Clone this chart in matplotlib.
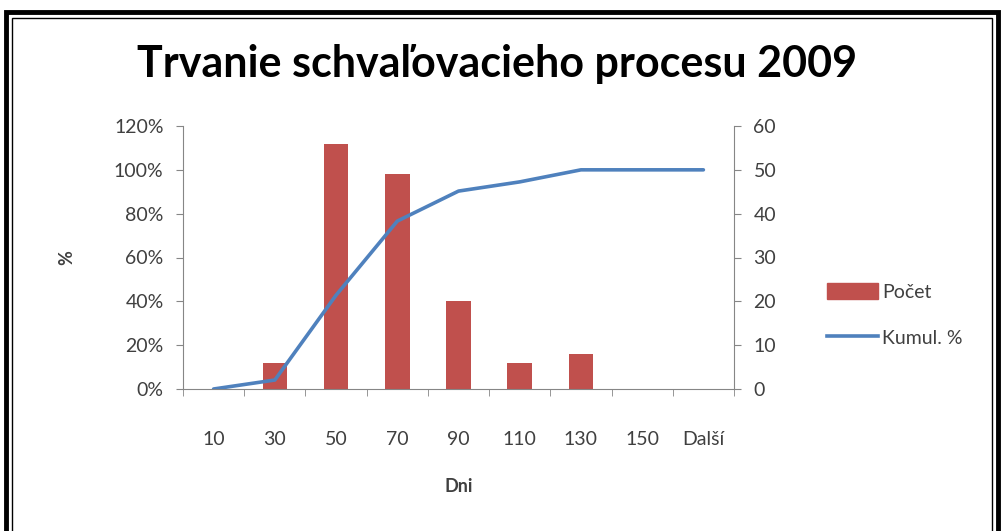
import matplotlib.pyplot as plt
from matplotlib.patches import Rectangle
from matplotlib.lines import Line2D

# údaje z grafu
kategorie = ["10", "30", "50", "70", "90", "110", "130", "150", "Další"]
pocet = [0, 6, 56, 49, 20, 6, 8, 0, 0]
kumul = [0.0, 4.1, 42.8, 76.6, 90.3, 94.5, 100.0, 100.0, 100.0]

plt.rcParams['font.family'] = ['Lato', 'DejaVu Sans']
seda = "#868686"
text_farba = "#404040"

fig = plt.figure(figsize=(10.04, 5.31), dpi=100)

# dvojitý rámik okolo obrázka
fig.patches.append(Rectangle((6 / 1004, -0.1), 992 / 1004, 1.1 - 12 / 531,
                             transform=fig.transFigure, fill=False,
                             edgecolor="black", linewidth=3.5))
fig.patches.append(Rectangle((12 / 1004, -0.1), 980 / 1004, 1.1 - 18 / 531,
                             transform=fig.transFigure, fill=False,
                             edgecolor="black", linewidth=1.0))

ax = fig.add_axes([183 / 1004, 1 - 389 / 531, 551 / 1004, 263 / 531])
ax2 = ax.twinx()

x = list(range(len(kategorie)))

# stĺpce na pravej osi, čiara na ľavej
ax2.bar(x, pocet, width=0.4, color="#C0504D", zorder=2)
ax.plot(x, kumul, color="#4F81BD", linewidth=2.6, zorder=3, solid_capstyle="round")

ax.set_zorder(ax2.get_zorder() + 1)
ax.patch.set_visible(False)

ax.set_xlim(-0.5, len(kategorie) - 0.5)
ax.set_ylim(0, 120)
ax2.set_ylim(0, 60)

ax.set_yticks(range(0, 121, 20))
ax.set_yticklabels([f"{v}%" for v in range(0, 121, 20)])
ax2.set_yticks(range(0, 61, 10))

ax.set_xticks(x)
ax.set_xticklabels(kategorie)
ax.set_xticks([i - 0.5 for i in range(len(kategorie) + 1)], minor=True)
ax.tick_params(axis="x", which="major", length=0, pad=30)
ax.tick_params(axis="x", which="minor", length=5, color=seda, direction="out")

for a in (ax, ax2):
    for s in a.spines.values():
        s.set_visible(False)
    a.tick_params(axis="y", length=5, color=seda, labelsize=14,
                  labelcolor=text_farba, pad=9)
ax.tick_params(axis="x", labelsize=14, labelcolor=text_farba)
ax.spines["left"].set_visible(True)
ax.spines["left"].set_color(seda)
ax.spines["bottom"].set_visible(True)
ax.spines["bottom"].set_color(seda)
ax2.spines["right"].set_visible(True)
ax2.spines["right"].set_color(seda)

ax.set_ylabel("%", fontsize=13, fontweight="bold", color=text_farba, labelpad=28)
ax.set_xlabel("Dni", fontsize=13, fontweight="bold", color=text_farba, labelpad=22)

fig.text(497 / 1004, 1 - 64 / 531, "Trvanie schvaľovacieho procesu 2009",
         ha="center", va="center", fontsize=31, fontweight="bold", color="black")

# legenda
handles = [Rectangle((0, 0), 1, 1, color="#C0504D"),
           Line2D([], [], color="#4F81BD", linewidth=2.6)]
fig.legend(handles, ["Počet", "Kumul. %"], loc="center left",
           bbox_to_anchor=(810 / 1004, 1 - 315 / 531), frameon=False,
           fontsize=14, handlelength=2.6, handleheight=0.9, handletextpad=0.2,
           labelspacing=1.45, labelcolor=text_farba)

fig.savefig("out.png", dpi=100)
